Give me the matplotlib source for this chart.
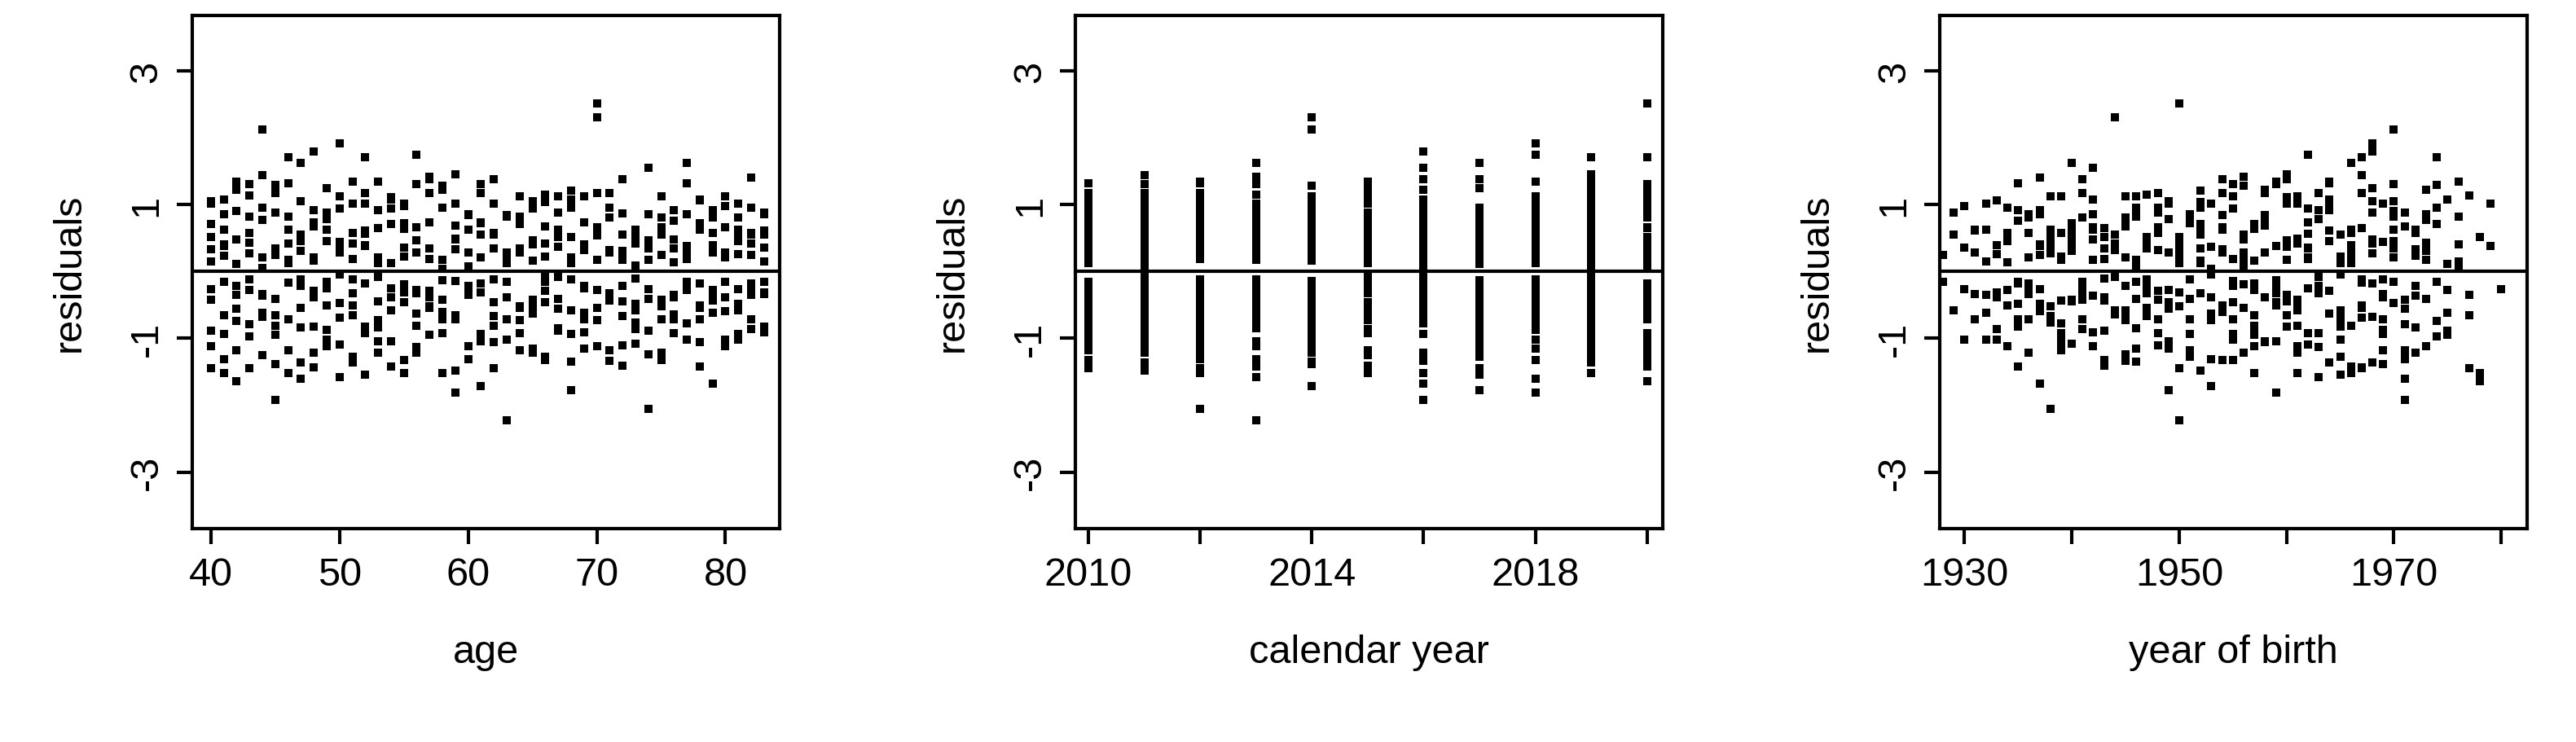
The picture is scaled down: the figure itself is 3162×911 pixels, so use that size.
import numpy as np
import matplotlib
matplotlib.use("Agg")
import matplotlib.pyplot as plt

plt.rcParams["font.family"] = ["Liberation Sans", "DejaVu Sans"]

ages = list(range(40, 84))
years = list(range(2010, 2021))

# residuals, one row per age (40..83), one column per year (2010..2020)
resid = [
    [1.05, -0.42, 0.33, -1.12, 0.71, -0.88, 0.15, -1.45, 0.52, 1.02, -0.27],
    [-0.93, 0.62, -1.31, 0.24, 0.86, -0.15, 1.08, 0.41, -0.66, -1.52, 0.38],
    [0.48, -1.18, 0.91, -0.56, -0.21, 1.22, -0.74, 0.11, 1.35, -0.35, -1.64],
    [-1.45, 0.27, -0.12, 1.31, -0.79, 0.58, 0.43, -0.97, -0.28, 0.82, 1.14],
    [0.21, 1.44, -0.68, -0.34, 2.12, -1.25, -0.36, 0.77, 0.95, -0.62, 0.05],
    [-0.66, -0.81, 1.18, 0.88, -1.38, 0.35, -1.92, 0.25, -0.41, 1.29, -0.95],
    [1.32, 0.13, -1.52, -0.17, 0.42, -0.71, 0.82, -1.18, 0.63, 0.18, 1.71],
    [-0.22, -1.36, 0.55, 1.62, -0.55, 1.05, -0.12, 0.46, -1.61, -0.84, 0.31],
    [0.74, 0.92, -0.29, -0.82, 0.16, -1.43, 1.79, -0.38, 0.21, 0.67, -1.21],
    [-1.12, -0.25, 0.78, 0.46, -1.02, 0.62, -0.51, 1.25, -0.87, -0.16, 0.88],
    [0.37, 1.12, -1.09, -1.58, 0.94, -0.05, 0.29, -0.69, 1.92, 0.44, -0.47],
    [-0.51, -0.66, 0.42, 0.19, -0.33, 1.35, -1.27, 0.58, -0.12, -1.36, 1.02],
    [1.18, 0.38, -0.82, 1.02, 0.57, -0.92, 0.61, -1.54, 0.39, 1.71, -0.18],
    [-0.84, -1.04, 1.35, -0.45, -1.21, 0.21, -0.08, 0.92, -0.73, 0.12, 0.65],
    [0.12, 0.71, -0.38, -1.05, 1.11, -0.58, 0.94, -0.25, 1.08, -0.58, -1.42],
    [-1.33, -0.19, 0.64, 0.72, -0.46, 1.01, -1.52, 0.36, -0.31, 0.98, 0.22],
    [0.66, 1.31, -1.21, -0.28, 0.28, -0.32, 0.47, -0.81, 1.75, -1.13, -0.63],
    [-0.38, -0.55, 0.19, 1.42, -0.95, 0.74, -0.29, 1.38, -0.52, 0.35, 1.18],
    [0.95, 0.04, -0.61, -0.71, 1.28, -1.52, 1.22, -0.13, 0.18, -0.42, -0.92],
    [-0.72, -1.48, 1.02, 0.33, -0.14, 0.48, -0.65, 0.69, -1.81, 1.45, 0.49],
    [0.29, 0.86, -0.33, -1.31, 0.62, -0.21, 0.08, -1.12, 0.84, -0.24, -0.35],
    [-1.05, -0.31, 0.72, 0.55, -1.72, 1.18, -0.94, 0.21, -0.18, 0.74, 1.31],
    [0.58, 1.02, -1.44, -0.12, 0.35, -0.67, 1.38, -0.46, 0.55, -0.81, -1.06],
    [-0.15, -0.72, 0.28, -2.22, 0.82, 0.12, -0.38, 0.84, -1.02, 0.28, 0.16],
    [0.82, 0.35, -0.92, 0.78, -0.52, -1.18, 0.71, -0.73, 0.29, 1.12, -0.55],
    [-0.61, -1.15, 0.47, -0.42, 1.05, 0.41, -1.21, 0.16, -0.63, -0.51, 0.94],
    [0.42, 0.68, -0.15, 1.15, -0.29, -0.46, 0.22, -1.28, 1.04, -0.05, -1.33],
    [-0.88, -0.08, 1.12, -0.85, 0.52, 0.88, -0.56, 0.51, -0.41, 0.62, 0.37],
    [1.08, 0.52, -0.58, 0.21, -1.35, -0.12, 0.96, -1.78, 0.13, -0.94, 1.21],
    [-0.25, -0.91, 0.35, -0.62, 0.73, 1.12, -0.22, 0.32, -1.15, 0.41, -0.72],
    [0.54, 1.18, -1.12, 0.65, 2.31, -0.73, 0.18, -0.54, 0.66, -0.28, 2.52],
    [-1.18, -0.42, 0.81, -0.36, -0.44, 0.32, -1.34, 0.96, -0.32, 1.18, 0.28],
    [0.31, 0.22, -0.45, 1.38, 0.18, -1.41, 0.55, -0.21, 0.87, -0.67, -1.11],
    [-0.48, -0.76, 0.58, -1.08, -0.86, 0.62, -0.11, 0.42, -0.58, 0.09, 0.52],
    [0.86, 0.41, -2.05, 0.18, 0.47, -0.26, 1.55, -0.88, 0.34, -1.24, -0.41],
    [-0.72, -1.22, 0.25, -0.52, 1.12, 0.55, -0.42, 0.66, -1.32, 0.55, 0.81],
    [0.14, 0.76, -0.72, 0.92, -0.67, -0.92, 0.34, -0.35, 0.48, -0.38, -0.64],
    [-1.02, -0.28, 1.32, -0.25, 0.38, 0.27, -0.78, 1.62, -0.15, 0.86, 0.19],
    [0.62, 1.06, -0.51, -1.42, -0.18, -0.55, 0.62, -1.06, 0.72, -0.72, 1.08],
    [-0.34, -0.62, 0.39, 0.58, 0.92, 0.81, -1.68, 0.28, -0.44, 0.31, -0.28],
    [0.98, 0.28, -1.02, -0.38, -1.12, -0.15, 0.21, -0.59, 1.12, -1.06, 0.66],
    [-0.58, -1.02, 0.62, 1.02, 0.26, 0.45, -0.48, 0.81, -0.26, 0.52, -0.94],
    [0.25, 0.55, -0.26, -0.71, -0.35, -0.86, 0.95, -0.18, 0.58, 1.41, 0.42],
    [-0.91, -0.15, 0.88, 0.36, 0.61, 0.15, -0.31, 0.55, -0.82, -0.34, 0.86],
]

res = np.array(resid)
age_x = np.repeat(ages, len(years))
year_x = np.tile(years, len(ages))
cohort_x = year_x - age_x
r = res.ravel()

fig = plt.figure(figsize=(31.62, 9.12), dpi=100)
fs = 35
panels = [
    (0.0746, age_x, "age", (38.55, 84.2), [40, 50, 60, 70, 80], [40, 50, 60, 70, 80]),
    (0.4175, year_x, "calendar year", (2009.77, 2020.28), list(range(2010, 2021, 2)), [2010, 2014, 2018]),
    (0.7530, cohort_x, "year of birth", (1927.7, 1982.4), list(range(1930, 1990, 10)), [1930, 1950, 1970]),
]
for left, x, lab, xlim, ticks, labelled in panels:
    ax = fig.add_axes([left, 0.287, 0.228, 0.691])
    ax.scatter(x, r, marker="s", s=60, c="black", linewidths=0)
    ax.axhline(0, color="black", lw=3)
    ax.set_xlim(xlim)
    ax.set_ylim(-3.85, 3.83)
    ax.set_xticks(ticks)
    ax.set_xticklabels([str(t) if t in labelled else "" for t in ticks], fontsize=fs)
    ax.set_yticks([-3, -1, 1, 3])
    ax.set_yticklabels(["-3", "-1", "1", "3"], fontsize=fs, rotation=90, va="center")
    ax.tick_params(width=3, length=14, pad=10)
    for s in ax.spines.values():
        s.set_linewidth(3)
    ax.set_xlabel(lab, fontsize=fs, labelpad=36)
    ax.set_ylabel("residuals", fontsize=fs, labelpad=36)

fig.savefig("out.png", dpi=100)
